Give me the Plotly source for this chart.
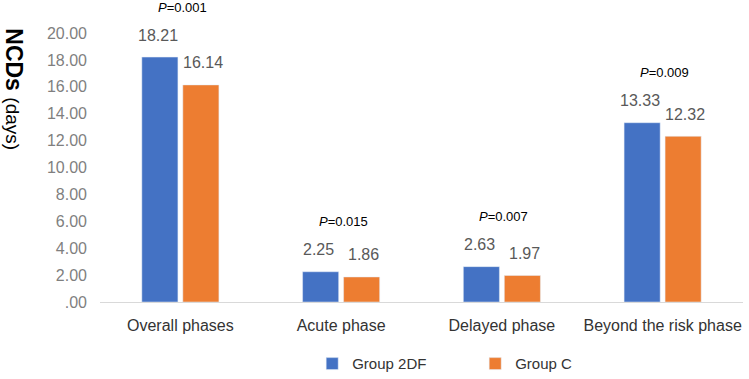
import plotly.graph_objects as go

categories = ["Overall phases", "Acute phase", "Delayed phase", "Beyond the risk phase"]
group_2df = [18.21, 2.25, 2.63, 13.33]
group_c = [16.14, 1.86, 1.97, 12.32]
p_labels = ["<i>P</i>=0.001", "<i>P</i>=0.015", "<i>P</i>=0.007", "<i>P</i>=0.009"]
tick_vals = [0, 2, 4, 6, 8, 10, 12, 14, 16, 18, 20]
tick_text = [".00", "2.00", "4.00", "6.00", "8.00", "10.00", "12.00", "14.00", "16.00", "18.00", "20.00"]

FONT = "Liberation Sans, Arial, sans-serif"
BLUE = "#4472C4"
ORANGE = "#ED7D31"

fig = go.Figure()
fig.add_trace(go.Bar(name="Group 2DF", x=categories, y=group_2df, marker_color=BLUE))
fig.add_trace(go.Bar(name="Group C", x=categories, y=group_c, marker_color=ORANGE))

ann = []
for i, c in enumerate(categories):
    ann.append(dict(x=c, y=group_2df[i], xref="x", yref="y", text=f"{group_2df[i]:.2f}",
                    showarrow=False, xshift=-22.5, yshift=22,
                    font=dict(family=FONT, size=16, color="#595959")))
    ann.append(dict(x=c, y=group_c[i], xref="x", yref="y", text=f"{group_c[i]:.2f}",
                    showarrow=False, xshift=22.5, yshift=22,
                    font=dict(family=FONT, size=16, color="#595959")))
    top = max(group_2df[i], group_c[i])
    ann.append(dict(x=c, y=top, xref="x", yref="y", text=p_labels[i],
                    showarrow=False, xshift=2, yshift=50,
                    font=dict(family=FONT, size=13, color="#000000")))

ann.append(dict(x=-0.135, y=0.79, xref="paper", yref="paper", textangle=90,
                xanchor="center", yanchor="middle",
                text="<b>NCDs</b> <span style='font-size:19px'>(days)</span>",
                showarrow=False, font=dict(family=FONT, size=23, color="#000000")))

fig.update_layout(
    width=749, height=379,
    margin=dict(l=100, r=6, t=33, b=77, autoexpand=False),
    plot_bgcolor="white", paper_bgcolor="white",
    barmode="group", bargap=0.49, bargroupgap=0.12,
    font=dict(family=FONT, size=16, color="#333333"),
    annotations=ann,
    showlegend=True,
    legend=dict(orientation="h", x=0.33, xanchor="left", y=-0.23, yanchor="middle",
                font=dict(family=FONT, size=15, color="#333333"),
                entrywidth=118, entrywidthmode="pixels"),
    xaxis=dict(showline=True, linecolor="#d9d9d9", linewidth=1, ticks="",
               ticklabelstandoff=9, automargin=False,
               tickfont=dict(family=FONT, size=16, color="#333333")),
    yaxis=dict(range=[0, 20], tickvals=tick_vals, ticktext=tick_text, showgrid=False,
               showline=False, zeroline=False, ticks="", ticklabelstandoff=12,
               automargin=False,
               tickfont=dict(family=FONT, size=16, color="#7f7f7f")),
)

fig.write_html("out.html", config={"displayModeBar": False},
               post_script="document.body.style.margin='0';document.body.style.padding='0';")
